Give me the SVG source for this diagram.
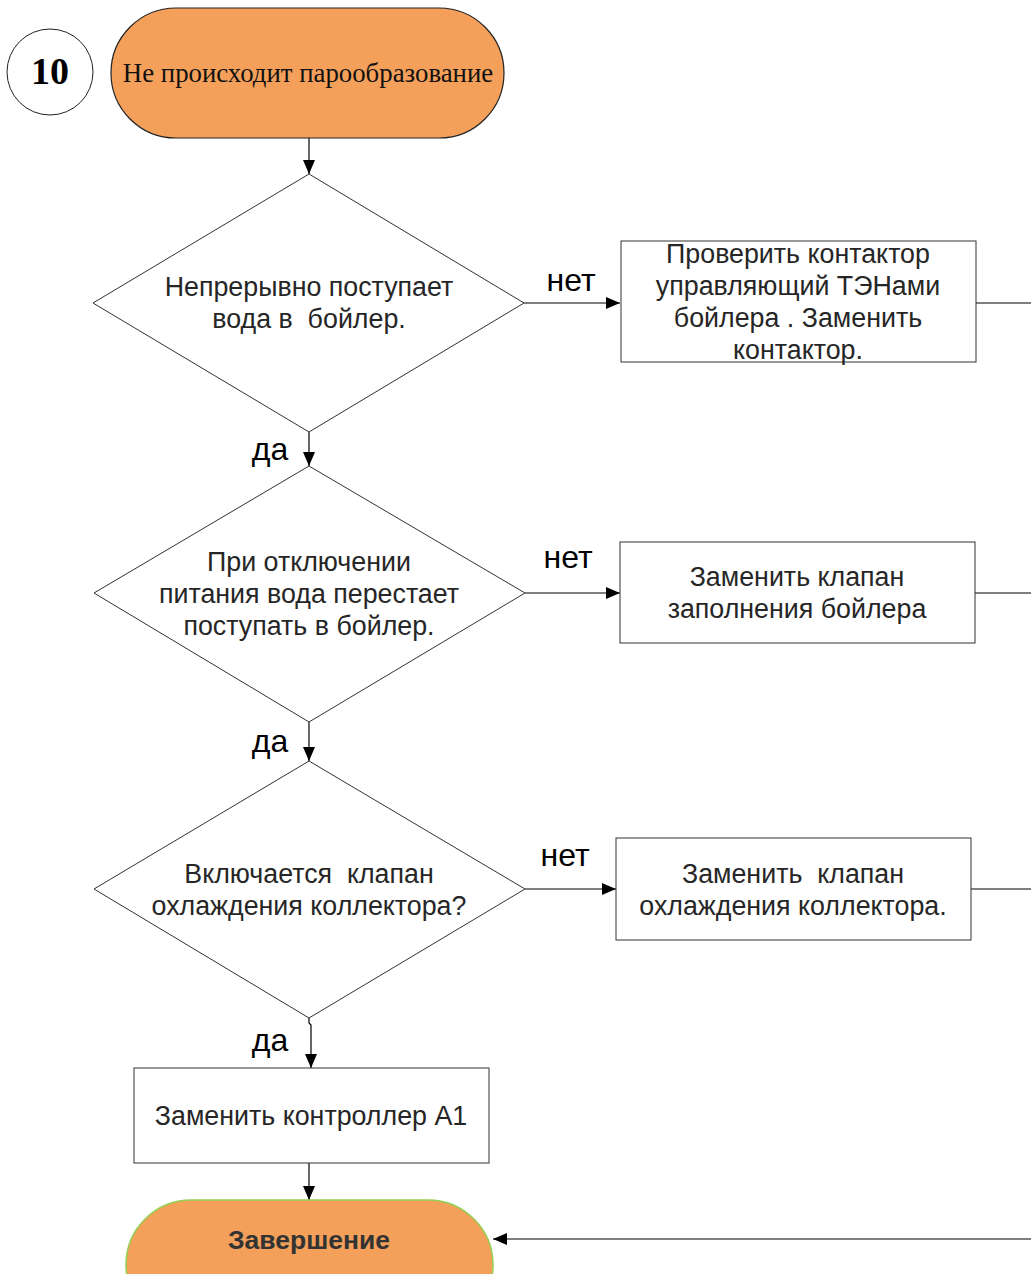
<svg xmlns="http://www.w3.org/2000/svg" width="1031" height="1274" viewBox="0 0 1031 1274">
<defs>
<marker id="arr" markerWidth="14" markerHeight="12" refX="14" refY="6" orient="auto" markerUnits="userSpaceOnUse">
<path d="M0,0 L14,6 L0,12 Z" fill="#000"/>
</marker>
<style>
.bg{fill:#fff}
.term{fill:#F4A05A;stroke:#222;stroke-width:1.2}
.termEnd{fill:#F4A05A;stroke:#92D050;stroke-width:1.5}
.shape{fill:#fff;stroke:#333;stroke-width:1}
.t{font-family:"Liberation Sans",Arial,sans-serif;font-size:26.8px;fill:#262626;text-anchor:middle;white-space:pre}
.lbl{font-family:"Liberation Sans",Arial,sans-serif;font-size:32px;fill:#000;text-anchor:middle}
.serif{font-family:"Liberation Serif","Times New Roman",serif;font-size:26.8px;fill:#111;text-anchor:middle}
.num{font-family:"Liberation Serif","Times New Roman",serif;font-size:38px;font-weight:bold;fill:#000;text-anchor:middle}
.bold{font-family:"Liberation Sans",Arial,sans-serif;font-size:26.5px;font-weight:bold;fill:#333;text-anchor:middle}
.c{fill:none;stroke:#000;stroke-width:1.2}
</style>
</defs>
<rect class="bg" x="0" y="0" width="1031" height="1274"/>

<g id="connectors">
<path class="c" d="M309,138 L309,174" marker-end="url(#arr)"/>
<path class="c" d="M524,303 L620,303" marker-end="url(#arr)"/>
<path class="c" d="M976,303 L1031,303"/>
<path class="c" d="M309,432 L309,466" marker-end="url(#arr)"/>
<path class="c" d="M525,593 L620,593" marker-end="url(#arr)"/>
<path class="c" d="M975,593 L1031,593"/>
<path class="c" d="M309,722 L309,761" marker-end="url(#arr)"/>
<path class="c" d="M525,889 L616,889" marker-end="url(#arr)"/>
<path class="c" d="M971,889 L1031,889"/>
<path class="c" d="M309,1018 L309,1023 L311,1025 L311,1068" marker-end="url(#arr)"/>
<path class="c" d="M309,1163 L309,1200" marker-end="url(#arr)"/>
<path class="c" d="M1031,1239 L493,1239" marker-end="url(#arr)"/>
<text class="lbl" x="571" y="291">нет</text>
<text class="lbl" x="270" y="460">да</text>
<text class="lbl" x="568" y="568">нет</text>
<text class="lbl" x="270" y="752">да</text>
<text class="lbl" x="565" y="866">нет</text>
<text class="lbl" x="270" y="1051">да</text>
</g>

<g id="num10">
<circle cx="50" cy="72" r="43" fill="#fff" stroke="#222" stroke-width="1"/>
<text class="num" x="50" y="84">10</text>
</g>

<g id="start">
<rect class="term" x="111" y="8" width="393" height="130" rx="65" ry="65"/>
<text class="serif" x="308" y="82">Не происходит парообразование</text>
</g>

<g id="d1">
<polygon class="shape" points="309,174 524,303 309,432 93,303"/>
<text class="t" x="309" y="296">Непрерывно поступает</text>
<text class="t" x="309" y="328">вода в  бойлер.</text>
</g>

<g id="b1">
<rect class="shape" x="621" y="241" width="355" height="121"/>
<text class="t" x="798" y="263">Проверить контактор</text>
<text class="t" x="798" y="295">управляющий ТЭНами</text>
<text class="t" x="798" y="327">бойлера . Заменить</text>
<text class="t" x="798" y="359">контактор.</text>
</g>

<g id="d2">
<polygon class="shape" points="309,466 525,593 309,722 94,593"/>
<text class="t" x="309" y="571">При отключении</text>
<text class="t" x="309" y="603">питания вода перестает</text>
<text class="t" x="309" y="635">поступать в бойлер.</text>
</g>

<g id="b2">
<rect class="shape" x="620" y="542" width="355" height="101"/>
<text class="t" x="797" y="586">Заменить клапан</text>
<text class="t" x="797" y="618">заполнения бойлера</text>
</g>

<g id="d3">
<polygon class="shape" points="309,761 525,889 309,1018 94,889"/>
<text class="t" x="309" y="883">Включается  клапан</text>
<text class="t" x="309" y="915">охлаждения коллектора?</text>
</g>

<g id="b3">
<rect class="shape" x="616" y="838" width="355" height="102"/>
<text class="t" x="793" y="883">Заменить  клапан</text>
<text class="t" x="793" y="915">охлаждения коллектора.</text>
</g>

<g id="b4">
<rect class="shape" x="134" y="1068" width="355" height="95"/>
<text class="t" x="311" y="1125">Заменить контроллер А1</text>
</g>

<g id="end">
<rect class="termEnd" x="126" y="1200" width="367" height="130" rx="65" ry="65"/>
<text class="bold" x="309" y="1249">Завершение</text>
</g>
</svg>
